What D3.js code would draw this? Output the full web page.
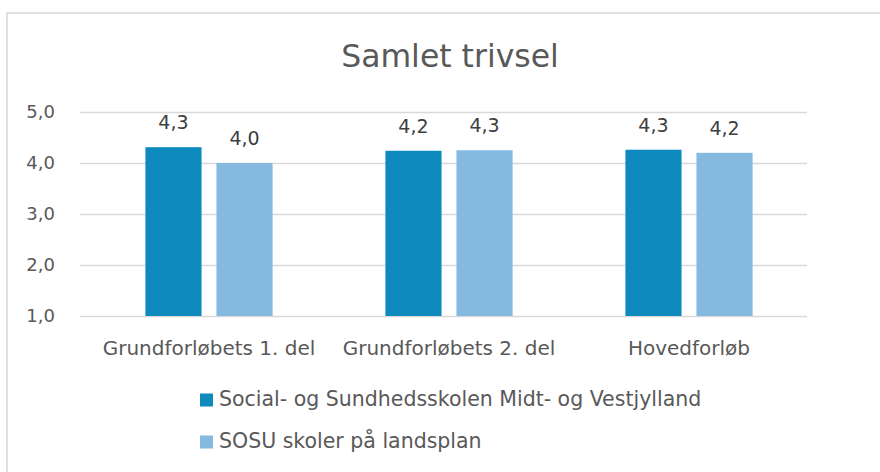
<!DOCTYPE html>
<html>
<head>
<meta charset="utf-8">
<script src="https://cdn.jsdelivr.net/npm/d3@7"></script>
<style>
  body { margin: 0; background: #fff; }
  text { font-family: "DejaVu Sans", sans-serif; }
</style>
</head>
<body>
<svg id="chart"></svg>
<script>
// Data
const categories = ["Grundforløbets 1. del", "Grundforløbets 2. del", "Hovedforløb"];
const seriesNames = ["Social- og Sundhedsskolen Midt- og Vestjylland", "SOSU skoler på landsplan"];
const schoolValues = [4.31, 4.24, 4.26];
const nationalValues = [4.00, 4.25, 4.20];
const yTicks = [1, 2, 3, 4, 5];
const colors = ["#0f8abe", "#85b9e0"];

const width = 880, height = 472;
const svg = d3.select("#chart").attr("width", width).attr("height", height);

// outer chart frame
svg.append("rect")
    .attr("x", 7).attr("y", 13)
    .attr("width", 900).attr("height", 500)
    .attr("fill", "none")
    .attr("stroke", "#e0e0e0")
    .attr("stroke-width", 2);

// title
svg.append("text")
    .attr("x", 450).attr("y", 67)
    .attr("text-anchor", "middle")
    .attr("font-size", 31.5)
    .attr("fill", "#595959")
    .text("Samlet trivsel");

// scales
const y = d3.scaleLinear().domain([1, 5]).range([316, 112]);
const x0 = d3.scaleBand().domain(categories).range([89, 809]).paddingInner(0.47).paddingOuter(0.235);
const x1 = d3.scaleBand().domain(seriesNames).range([0, x0.bandwidth()]).paddingInner(0.21);
const fmt = v => d3.format(".1f")(v).replace(".", ",");

// gridlines
svg.append("g").selectAll("line")
    .data(yTicks)
    .join("line")
    .attr("x1", 80).attr("x2", 807)
    .attr("y1", d => Math.round(y(d)) + 0.5)
    .attr("y2", d => Math.round(y(d)) + 0.5)
    .attr("stroke", "#d9d9d9")
    .attr("stroke-width", 1.5);

// y tick labels
svg.append("g").selectAll("text")
    .data(yTicks)
    .join("text")
    .attr("x", 55)
    .attr("y", d => y(d))
    .attr("dy", "0.36em")
    .attr("text-anchor", "end")
    .attr("font-size", 18)
    .attr("fill", "#595959")
    .text(d => fmt(d));

// bars
const rows = categories.map((c, i) => ({
    category: c,
    values: [
        { name: seriesNames[0], value: schoolValues[i], color: colors[0] },
        { name: seriesNames[1], value: nationalValues[i], color: colors[1] }
    ]
}));

const group = svg.append("g").selectAll("g")
    .data(rows)
    .join("g")
    .attr("transform", d => `translate(${x0(d.category)},0)`);

group.selectAll("rect")
    .data(d => d.values)
    .join("rect")
    .attr("x", d => x1(d.name))
    .attr("y", d => y(d.value))
    .attr("width", x1.bandwidth())
    .attr("height", d => y(1) - y(d.value))
    .attr("fill", d => d.color);

// data labels
group.selectAll("text")
    .data(d => d.values)
    .join("text")
    .attr("x", d => x1(d.name) + x1.bandwidth() / 2)
    .attr("y", d => y(d.value) - 18)
    .attr("text-anchor", "middle")
    .attr("font-size", 19)
    .attr("fill", "#404040")
    .text(d => fmt(d.value));

// category labels
svg.append("g").selectAll("text")
    .data(categories)
    .join("text")
    .attr("x", d => x0(d) + x0.bandwidth() / 2)
    .attr("y", 355)
    .attr("text-anchor", "middle")
    .attr("font-size", 20)
    .attr("fill", "#595959")
    .text(d => d);

// legend
const legend = svg.append("g").selectAll("g")
    .data(seriesNames)
    .join("g")
    .attr("transform", (d, i) => `translate(200,${406 + i * 42})`);

legend.append("rect")
    .attr("x", 0).attr("y", -12.5)
    .attr("width", 13).attr("height", 13)
    .attr("fill", (d, i) => colors[i]);

legend.append("text")
    .attr("x", 19).attr("y", 0)
    .attr("font-size", 20.5)
    .attr("fill", "#595959")
    .text(d => d);
</script>
</body>
</html>
